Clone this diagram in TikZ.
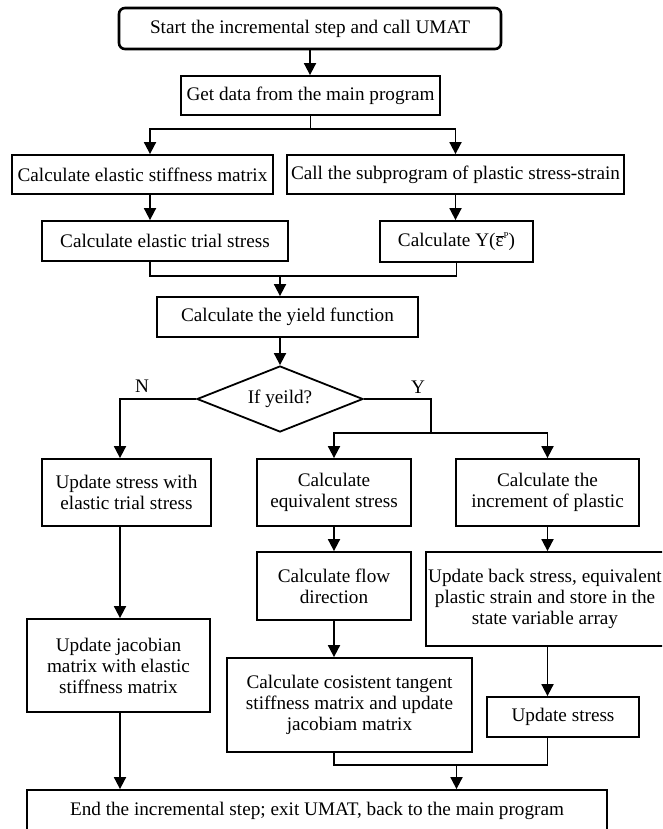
\documentclass[tikz,border=0pt]{standalone}
\usepackage{fontspec}
\setmainfont{Liberation Serif}
\usetikzlibrary{arrows.meta,shapes.geometric}

\begin{document}
\begin{tikzpicture}[x=1pt,y=-1pt,font=\fontsize{19.2}{21}\selectfont,
    box/.style={draw, line width=1.8pt, inner sep=2pt, align=center},
    arr/.style={line width=1.8pt, -{Triangle[length=12pt,width=12pt]}},
    wire/.style={line width=1.8pt}]
            % UMAT flowchart
            \clip (0,0) rectangle (662,829);

            \coordinate (colN) at (120,0);
            \coordinate (colL) at (150,0);
            \coordinate (ybr) at (431,433);

            \node[box, rounded corners=6pt, line width=2.6pt, minimum width=382pt, minimum height=41pt] at (310,28.5) (start) {Start the incremental step and call UMAT};
            \node[box, minimum width=259pt, minimum height=39pt] at (310.5,95.5) (getdata) {Get data from the main program};

            \node[box, minimum width=261pt, minimum height=39pt] at (142.5,174.5) (stiff) {Calculate elastic stiffness matrix};
            \node[box, minimum width=337pt, minimum height=39pt] at (455.5,174.5) (subprog) {Call the subprogram of plastic stress-strain};
            \node[box, minimum width=246pt, minimum height=40pt] at (165,241) (trial) {Calculate elastic trial stress};
            \node[box, minimum width=153pt, minimum height=41pt] at (456.5,241.5) (calcY) {Calculate Y($\overline{\mbox{ε}}$\raisebox{8pt}{\fontsize{9}{9}\selectfont P})};

            \node[box, minimum width=261pt, minimum height=40pt] at (287.5,317) (yieldfn) {Calculate the yield function};
            \node[draw, diamond, line width=1.8pt, inner sep=0pt, aspect=2.5, minimum width=166pt, minimum height=66pt] at (280,399) (ifyield) {If yeild?};
            \node (nlab) at (142,386) {N};
            \node (ylab) at (418,387) {Y};

            % elastic branch
            \node[box, minimum width=169pt, minimum height=67pt] at (126.5,492.5) (upstress) {Update stress with\\elastic trial stress};
            \node[box, minimum width=183pt, minimum height=93pt] at (118.5,665.5) (jacobian) {Update jacobian\\matrix with elastic\\stiffness matrix};

            % plastic branch
            \node[box, minimum width=154pt, minimum height=67pt] at (334,492.5) (eqstress) {Calculate\\equivalent stress};
            \node[box, minimum width=183pt, minimum height=67pt] at (547.5,492.5) (incr) {Calculate the\\increment of plastic};
            \node[box, minimum width=154pt, minimum height=68pt] at (334,586) (flow) {Calculate flow\\direction};
            \node[box, minimum width=238pt, minimum height=94pt] at (545,599) (backstress) {Update back stress, equivalent\\plastic strain and store in the\\state variable array};
            \node[box, minimum width=245pt, minimum height=94pt] at (349.5,705) (consist) {Calculate cosistent tangent\\stiffness matrix and update\\jacobiam matrix};
            \node[box, minimum width=152pt, minimum height=40pt] at (563,717) (upstress2) {Update stress};

            \node[box, minimum width=580pt, minimum height=41pt] at (317,810.5) (endbox) {End the incremental step; exit UMAT, back to the main program};

            \draw[arr] (start.south) -- (start.south |- getdata.north);
            \draw[wire] (getdata.south) -- ++(0,13) coordinate (split1);
            \draw[arr] (split1) -| (stiff.north -| colL);
            \draw[arr] (split1) -| (subprog.north);
            \draw[arr] (stiff.south -| colL) -- (trial.north -| colL);
            \draw[arr] (subprog.south) -- (subprog.south |- calcY.north);
            \draw[wire] (trial.south -| colL) -- ++(0,14) coordinate (merge1) -| (calcY.south);
            \draw[arr] (merge1 -| ifyield) -- (ifyield |- yieldfn.north);
            \draw[arr] (ifyield |- yieldfn.south) -- (ifyield.north);

            \draw[arr] (ifyield.west) -| (upstress.north -| colN);
            \draw[wire] (ifyield.east) -| (ybr);
            \draw[arr] (ybr) -| (eqstress.north);
            \draw[arr] (ybr) -| (incr.north);

            \draw[arr] (upstress.south -| colN) -- (jacobian.north -| colN);
            \draw[arr] (jacobian.south -| colN) -- (endbox.north -| colN);

            \draw[arr] (eqstress.south) -- (flow.north);
            \draw[arr] (flow.south) -- (flow.south |- consist.north);
            \draw[arr] (incr.south) -- (incr.south |- backstress.north);
            \draw[arr] (backstress.south -| incr) -- (upstress2.north -| incr);
            \draw[wire] (consist.south -| flow) -- ++(0,12) coordinate (merge2) -| (upstress2.south -| incr);
            \draw[arr] (merge2 -| calcY) -- (endbox.north -| calcY);
        \end{tikzpicture}
\end{document}
